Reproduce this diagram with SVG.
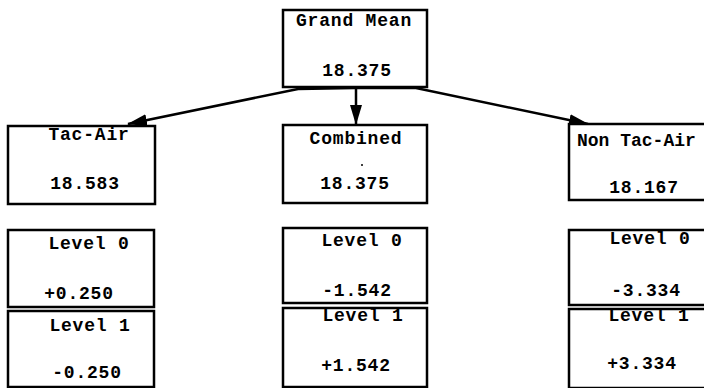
<svg xmlns="http://www.w3.org/2000/svg" width="704" height="388" viewBox="0 0 704 388">
<style>
.box{fill:#fff;stroke:#000;stroke-width:2.5}
.t{font-family:"Liberation Mono","Courier New",monospace;font-weight:bold;font-size:18px;letter-spacing:0.8px;fill:#000;text-anchor:middle}
.ts{text-anchor:start;letter-spacing:0}
.c{fill:none;stroke:#000;stroke-width:2.5}
</style>
<defs>
<marker id="ah" markerUnits="userSpaceOnUse" markerWidth="22" markerHeight="14" refX="19" refY="6" orient="auto">
<path d="M0,0 L20,6 L0,12 Z" fill="#000"/>
</marker>
</defs>
<g id="connectors">
<path class="c" d="M355,88 L298,89 L128,124" marker-end="url(#ah)"/>
<path class="c" d="M356,88 L356,124" marker-end="url(#ah)"/>
<path class="c" d="M355,88 L416,88 L588,124" marker-end="url(#ah)"/>
</g>
<g id="grand-mean">
<rect class="box" x="283" y="10" width="144" height="77"/>
<text class="t" x="354" y="26">Grand Mean</text>
<text class="t" x="357" y="76">18.375</text>
</g>
<g id="tac-air">
<rect class="box" x="8" y="126" width="147" height="78"/>
<text class="t" x="89" y="140">Tac-Air</text>
<text class="t" x="85" y="189">18.583</text>
</g>
<g id="combined">
<rect class="box" x="283" y="125" width="144" height="78"/>
<text class="t" x="356" y="144">Combined</text>
<circle cx="362" cy="165" r="1" fill="#000"/>
<text class="t" x="355" y="189">18.375</text>
</g>
<g id="non-tac-air">
<rect class="box" x="569" y="124" width="145" height="76"/>
<text class="t ts" x="577" y="146">Non Tac-Air</text>
<text class="t" x="644" y="193">18.167</text>
</g>
<g id="tac-level0">
<rect class="box" x="8" y="230" width="146" height="77"/>
<text class="t" x="89" y="249">Level 0</text>
<text class="t" x="79" y="299">+0.250</text>
</g>
<g id="tac-level1">
<rect class="box" x="8" y="311" width="146" height="76"/>
<text class="t" x="90" y="331">Level 1</text>
<text class="t" x="87" y="378">-0.250</text>
</g>
<g id="combined-level0">
<rect class="box" x="283" y="228" width="144" height="75"/>
<text class="t" x="362" y="246">Level 0</text>
<text class="t" x="357" y="296">-1.542</text>
</g>
<g id="combined-level1">
<rect class="box" x="283" y="308" width="144" height="79"/>
<text class="t" x="363" y="321">Level 1</text>
<text class="t" x="356" y="371">+1.542</text>
</g>
<g id="non-level0">
<rect class="box" x="569" y="230" width="145" height="75"/>
<text class="t" x="650" y="244">Level 0</text>
<text class="t" x="646" y="296">-3.334</text>
</g>
<g id="non-level1">
<rect class="box" x="569" y="309" width="145" height="79"/>
<text class="t" x="649" y="321">Level 1</text>
<text class="t" x="642" y="369">+3.334</text>
</g>
</svg>
